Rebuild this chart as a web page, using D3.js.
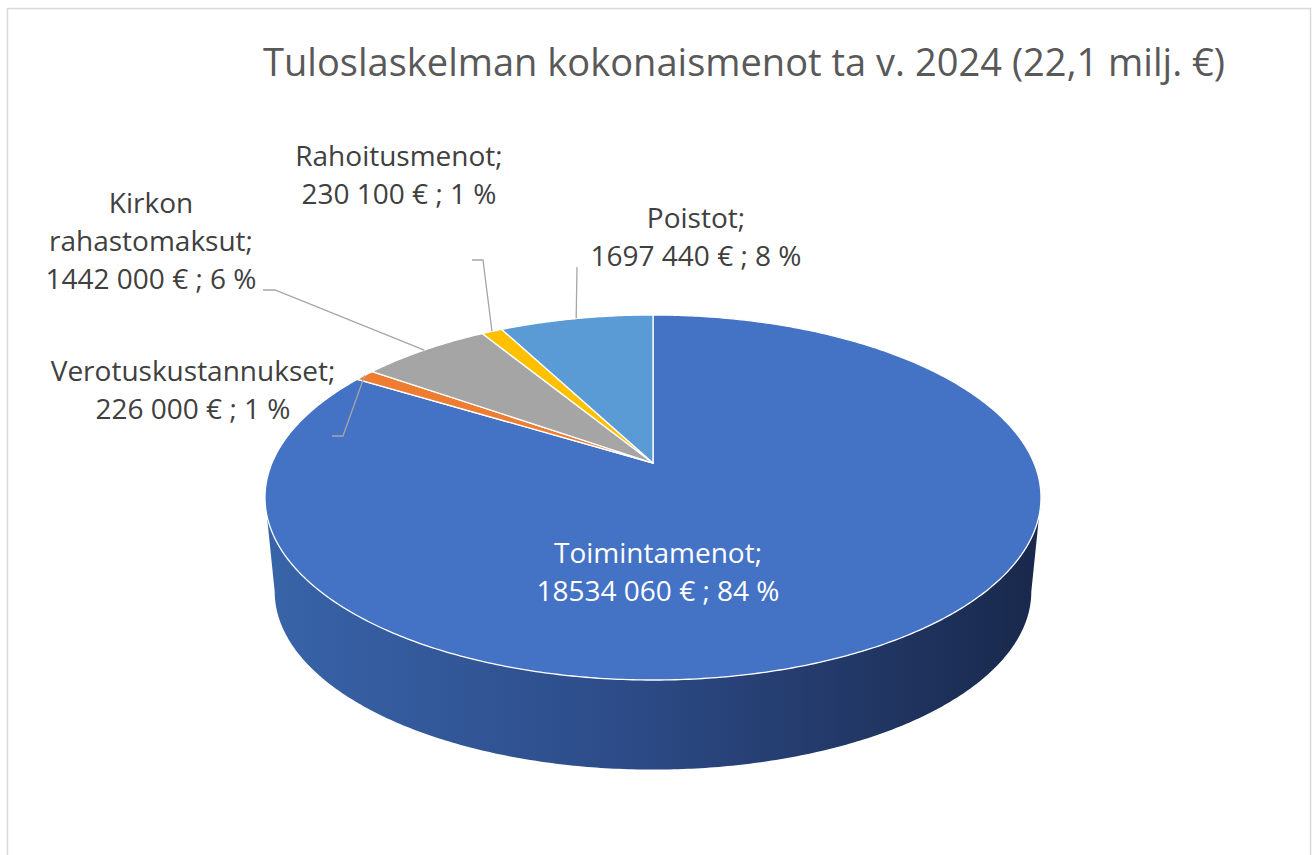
<!DOCTYPE html>
<html>
<head>
<meta charset="utf-8">
<script src="https://cdn.jsdelivr.net/npm/d3@7"></script>
<style>
  body { margin: 0; background: #fff; }
  text { font-family: "Open Sans", "Noto Sans", sans-serif; }
</style>
</head>
<body>
<div id="container"></div>
<script>
// chart values
const title = "Tuloslaskelman kokonaismenot ta v. 2024 (22,1 milj. €)";
const categories = ["Toimintamenot", "Verotuskustannukset", "Kirkon rahastomaksut", "Rahoitusmenot", "Poistot"];
const values = [18534060, 226000, 1442000, 230100, 1697440];
const colors = ["#4472C4", "#ED7D31", "#A5A5A5", "#FFC000", "#5B9BD5"];

// label placement (center x, first baseline, leader start, line breaks)
const labelLayout = [
  {x: 658, y: 563, lines: 2, inside: true},
  {x: 193, y: 381, lines: 2, lead: [[332, 436], [343, 436]]},
  {x: 151, y: 213, lines: 3, lead: [[263, 290], [275, 290]]},
  {x: 399, y: 166, lines: 2, lead: [[472, 260], [483, 260]]},
  {x: 696, y: 228, lines: 2, lead: [[577, 267]]}
];

let svgWidth = 1316;
let svgHeight = 855;

let viz = d3.select("#container")
  .append("svg")
    .attr("width", svgWidth)
    .attr("height", svgHeight)
    .style("background-color", "white");

// chart frame
viz.append("rect")
  .attr("x", 7.5).attr("y", 8.5)
  .attr("width", 1303).attr("height", 900)
  .attr("fill", "none")
  .attr("stroke", "#d9d9d9")
  .attr("stroke-width", 1.5);

viz.append("text")
  .attr("x", 263).attr("y", 76)
  .attr("font-size", 39)
  .attr("fill", "#595959")
  .attr("textLength", 962)
  .attr("lengthAdjust", "spacingAndGlyphs")
  .text(title);

// simple perspective of a tilted disk
const cx = 653, cy = 463, S = 381, B = 176, A = 0.189;
const depth = 95, bottomScale = 0.975;

function proj(theta, dy = 0, k = 1) {
  let s = Math.sin(theta), c = Math.cos(theta);
  let den = 1 + A * c;
  return [cx + S * k * s / den, cy + dy - B * k * c / den];
}

function arcPoints(a0, a1, dy, k) {
  let n = Math.max(2, Math.ceil(Math.abs(a1 - a0) / 0.01));
  return d3.range(n + 1).map(i => proj(a0 + (a1 - a0) * i / n, dy, k));
}

let line = d3.line();
let total = d3.sum(values);
let arcs = d3.pie().sort(null)(values);

// percents rounded so they add up to 100
let raw = values.map(v => v / total * 100);
let pct = raw.map(Math.floor);
let left = 100 - d3.sum(pct);
d3.range(values.length)
  .sort((a, b) => (raw[b] - pct[b]) - (raw[a] - pct[a]))
  .slice(0, left)
  .forEach(i => pct[i] += 1);

function fmt(v) {
  let th = Math.floor(v / 1000), rest = v % 1000;
  return th + " " + String(rest).padStart(3, "0") + " €";
}

// side wall (front half only)
let grad = viz.append("defs").append("linearGradient")
  .attr("id", "side").attr("gradientUnits", "userSpaceOnUse")
  .attr("x1", cx - S * 1.02).attr("x2", cx + S * 1.02)
  .attr("y1", 0).attr("y2", 0);
grad.selectAll("stop")
  .data([[0, "#3864a9"], [0.45, "#2d4c89"], [1, "#19284b"]])
  .enter().append("stop")
  .attr("offset", d => d[0])
  .attr("stop-color", d => d[1]);

let visA = Math.acos(-A), visB = 2 * Math.PI - Math.acos(-A);
arcs.forEach(function(d, i) {
  let a0 = Math.max(d.startAngle, visA), a1 = Math.min(d.endAngle, visB);
  if (a1 <= a0) return;
  let pts = arcPoints(a0, a1, 0, 1).concat(arcPoints(a1, a0, depth, bottomScale));
  viz.append("path")
    .attr("d", line(pts) + "Z")
    .attr("fill", i == 0 ? "url(#side)" : d3.color(colors[i]).darker(1.2));
});

// top face
viz.selectAll("path.slice")
  .data(arcs)
  .enter().append("path")
  .attr("class", "slice")
  .attr("d", d => line([[cx, cy]].concat(arcPoints(d.startAngle, d.endAngle, 0, 1))) + "Z")
  .attr("fill", (d, i) => colors[i])
  .attr("stroke", "white")
  .attr("stroke-width", 1.3)
  .attr("stroke-linejoin", "round");

// leader lines
arcs.forEach(function(d, i) {
  let L = labelLayout[i];
  if (!L.lead) return;
  let mid = (d.startAngle + d.endAngle) / 2;
  viz.append("path")
    .attr("d", line(L.lead.concat([proj(mid)])))
    .attr("fill", "none")
    .attr("stroke", "#a6a6a6")
    .attr("stroke-width", 1.3);
});

// data labels
arcs.forEach(function(d, i) {
  let L = labelLayout[i];
  let name = categories[i];
  let lines;
  if (L.lines == 3) {
    let parts = name.split(" ");
    lines = [parts[0], parts.slice(1).join(" ") + ";"];
  } else {
    lines = [name + ";"];
  }
  lines.push(fmt(values[i]) + " ; " + pct[i] + " %");
  let t = viz.append("text")
    .attr("text-anchor", "middle")
    .attr("font-size", 28)
    .attr("fill", L.inside ? "white" : "#404040");
  lines.forEach(function(s, j) {
    t.append("tspan")
      .attr("x", L.x)
      .attr("y", L.y + j * 38)
      .text(s);
  });
});
</script>
</body>
</html>
